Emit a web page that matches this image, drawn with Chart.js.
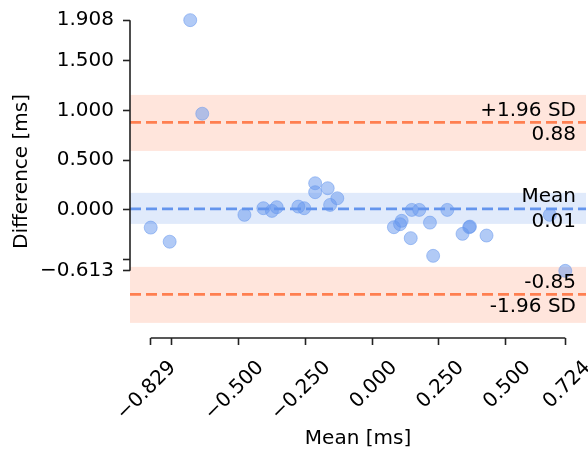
<!DOCTYPE html>
<html>
<head>
<meta charset="utf-8">
<script src="https://cdn.jsdelivr.net/npm/chart.js@4"></script>
<style>
  body { margin: 0; background: #fff; }
  #grafico { display: block; }
</style>
</head>
<body>
<canvas id="grafico" width="588" height="449"></canvas>
<script>
// media entre os dois metodos (x) e diferenca (y), em ms
const medias = [-0.681, -0.636, -0.829, -0.758, -0.478, -0.407, -0.375, -0.357, -0.276, -0.254,
	-0.213, -0.213, -0.166, -0.157, -0.130, 0.082, 0.105, 0.111, 0.145, 0.149,
	0.177, 0.217, 0.229, 0.282, 0.339, 0.364, 0.367, 0.429, 0.666, 0.724];
const diferencas = [1.908, 0.967, -0.178, -0.320, -0.050, 0.017, -0.010, 0.027, 0.033, 0.017,
	0.268, 0.178, 0.218, 0.050, 0.117, -0.174, -0.144, -0.110, -0.284, 0.000,
	0.000, -0.128, -0.462, 0.000, -0.241, -0.174, -0.168, -0.258, -0.050, -0.613];

const media = 0.01;
const limSup = 0.88;
const limInf = -0.85;
const ciMedia = [-0.141, 0.171];
const ciSup = [0.593, 1.156];
const ciInf = [-1.136, -0.573];

const xTicks = [-0.829, -0.75, -0.5, -0.25, 0, 0.25, 0.5, 0.724];
const xLabels = ["\u22120.829", "", "\u22120.500", "\u22120.250", "0.000", "0.250", "0.500", "0.724"];
const yTicks = [1.908, 1.5, 1.0, 0.5, 0.0, -0.5, -0.613];
const yLabels = ["1.908", "1.500", "1.000", "0.500", "0.000", "", "\u22120.613"];

const xMin = -0.9066, xMax = 0.8016;
const yMin = -1.2882, yMax = 2.0602;

const azul = "rgb(100, 149, 237)";
const laranja = "rgb(255, 127, 80)";
const fonte = "DejaVu Sans";

Chart.defaults.font.family = fonte;
Chart.defaults.color = "#000";

const pontos = medias.map((m, i) => ({ x: m, y: diferencas[i] }));
const linha = (v) => [{ x: xMin, y: v }, { x: xMax, y: v }];

const faixas = {
	id: "faixas",
	beforeDatasetsDraw(chart) {
		const { ctx, chartArea, scales } = chart;
		const y = scales.y;
		const desenha = (ci, cor) => {
			const y1 = y.getPixelForValue(ci[1]);
			const y0 = y.getPixelForValue(ci[0]);
			ctx.fillStyle = cor;
			ctx.fillRect(chartArea.left, y1, chartArea.right - chartArea.left, y0 - y1);
		};
		ctx.save();
		desenha(ciSup, "rgba(255, 127, 80, 0.2)");
		desenha(ciInf, "rgba(255, 127, 80, 0.2)");
		desenha(ciMedia, "rgba(100, 149, 237, 0.2)");
		ctx.restore();
	},
	afterDatasetsDraw(chart) {
		const { ctx, chartArea, scales } = chart;
		const y = scales.y;
		const xr = chartArea.right - 10;
		ctx.save();
		ctx.font = "20px '" + fonte + "'";
		ctx.fillStyle = "#000";
		ctx.textAlign = "right";
		ctx.textBaseline = "alphabetic";
		const textos = [
			[limSup, "+1.96 SD", limSup.toFixed(2)],
			[media, "Mean", media.toFixed(2)],
			[limInf, limInf.toFixed(2), "-1.96 SD"],
		];
		textos.forEach(([v, cima, baixo]) => {
			const py = y.getPixelForValue(v);
			ctx.fillText(cima, xr, py - 6.5);
			ctx.fillText(baixo, xr, py + 17.8);
		});
		ctx.restore();
	},
	afterDraw(chart) {
		// eixos "aparados" como no seaborn despine(trim=True)
		const { ctx, chartArea, scales } = chart;
		ctx.save();
		ctx.strokeStyle = "#222";
		ctx.lineWidth = 1.6;
		ctx.beginPath();
		ctx.moveTo(chartArea.left, scales.y.getPixelForValue(yTicks[0]));
		ctx.lineTo(chartArea.left, scales.y.getPixelForValue(yTicks[yTicks.length - 1]));
		ctx.moveTo(scales.x.getPixelForValue(xTicks[0]), chartArea.bottom);
		ctx.lineTo(scales.x.getPixelForValue(xTicks[xTicks.length - 1]), chartArea.bottom);
		ctx.stroke();
		ctx.restore();
	},
};

new Chart(document.querySelector("#grafico"), {
	type: "scatter",
	data: {
		datasets: [
			{
				data: pontos,
				backgroundColor: "rgba(100, 149, 237, 0.5)",
				borderColor: "rgba(100, 149, 237, 0.5)",
				borderWidth: 1,
				pointRadius: 6.5,
				order: 0,
			},
			{
				type: "line",
				data: linha(limSup),
				borderColor: laranja,
				borderWidth: 2.6,
				borderDash: [11, 5],
				pointRadius: 0,
				order: 1,
			},
			{
				type: "line",
				data: linha(limInf),
				borderColor: laranja,
				borderWidth: 2.6,
				borderDash: [11, 5],
				pointRadius: 0,
				order: 1,
			},
			{
				type: "line",
				data: linha(media),
				borderColor: azul,
				borderWidth: 2.6,
				borderDash: [11, 5],
				pointRadius: 0,
				order: 1,
			},
		],
	},
	options: {
		responsive: false,
		animation: false,
		devicePixelRatio: 1,
		layout: { autoPadding: false, padding: { top: 5, right: 2, left: 0, bottom: 0 } },
		plugins: {
			legend: { display: false },
			tooltip: { enabled: false },
		},
		scales: {
			x: {
				type: "linear",
				min: xMin,
				max: xMax,
				afterBuildTicks: (s) => {
					s.ticks = xTicks.map((v) => ({ value: v }));
				},
				afterFit: (s) => {
					s.height = 111;
					s.paddingLeft = 0;
					s.paddingRight = 0;
				},
				ticks: {
					autoSkip: false,
					minRotation: 45,
					maxRotation: 45,
					padding: 11,
					labelOffset: 22,
					font: { size: 20 },
					callback: (v, i) => xLabels[i],
				},
				grid: {
					drawOnChartArea: false,
					tickLength: 7,
					tickWidth: 1.6,
					tickColor: "#222",
				},
				border: { display: false },
				title: {
					display: true,
					text: "Mean [ms]",
					font: { size: 20 },
					padding: { top: 0, bottom: -2 },
				},
			},
			y: {
				type: "linear",
				min: yMin,
				max: yMax,
				afterBuildTicks: (s) => {
					s.ticks = yTicks.map((v) => ({ value: v }));
				},
				afterFit: (s) => {
					s.width = 130;
					s.paddingTop = 0;
					s.paddingBottom = 0;
				},
				ticks: {
					autoSkip: false,
					padding: 9,
					font: { size: 20 },
					callback: (v, i) => yLabels[i],
				},
				grid: {
					drawOnChartArea: false,
					tickLength: 7,
					tickWidth: 1.6,
					tickColor: "#222",
				},
				border: { display: false },
				title: {
					display: true,
					text: "Difference [ms]",
					font: { size: 20 },
					padding: { top: 10, bottom: 0 },
				},
			},
		},
	},
	plugins: [faixas],
});
</script>
</body>
</html>
